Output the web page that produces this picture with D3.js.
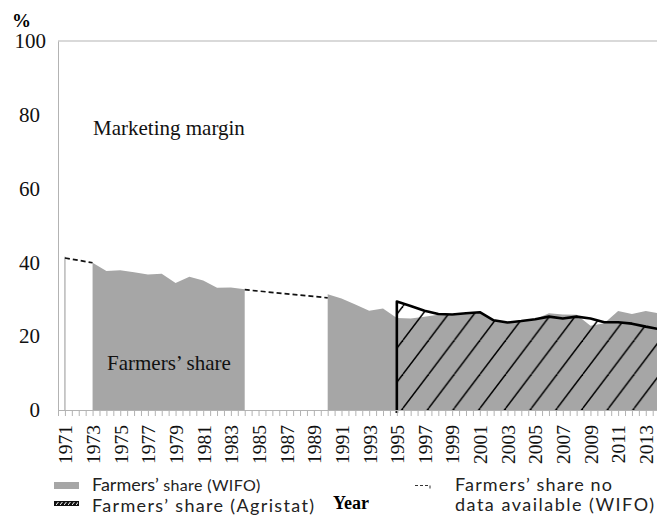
<!DOCTYPE html>
<html>
<head>
<meta charset="utf-8">
<script src="https://cdn.jsdelivr.net/npm/d3@7"></script>
<style>
  body { margin: 0; background: #fff; }
  svg { display: block; }
</style>
</head>
<body>
<div id="graph"></div>
<script>
'use strict';

let W = 657;
let H = 518;
let PLOT = { left: 58, top: 41, bottom: 410 };
let SERIF = '"Liberation Serif", "Times New Roman", serif';
let SANS = 'Lato, "Open Sans", sans-serif';

// WIFO series, two blocks with gaps in between
let wifoYearsA = [1973, 1974, 1975, 1976, 1977, 1978, 1979, 1980, 1981, 1982, 1983, 1984];
let wifoValuesA = [39.9, 37.7, 37.9, 37.3, 36.7, 36.9, 34.4, 36.1, 35.1, 33.1, 33.2, 32.7];

let wifoYearsB = [1990, 1991, 1992, 1993, 1994, 1995, 1996, 1997, 1998, 1999, 2000, 2001,
    2002, 2003, 2004, 2005, 2006, 2007, 2008, 2009, 2010, 2011, 2012, 2013, 2014];
let wifoValuesB = [31.4, 30.2, 28.6, 26.9, 27.5, 24.9, 24.8, 25.3, 25.8, 25.7, 26.2, 26.5,
    24.4, 23.6, 24.1, 24.6, 26.2, 25.9, 25.8, 22.8, 23.5, 26.8, 26.0, 26.8, 26.2];

// single WIFO value for 1971
let wifoYear1971 = 1971;
let wifoValue1971 = 41.5;

// Agristat series
let agriYears = [1995, 1996, 1997, 1998, 1999, 2000, 2001, 2002, 2003, 2004,
    2005, 2006, 2007, 2008, 2009, 2010, 2011, 2012, 2013, 2014];
let agriValues = [29.4, 28.2, 26.9, 26.0, 25.9, 26.2, 26.5, 24.3, 23.7, 24.1,
    24.6, 25.3, 24.8, 25.3, 24.8, 23.8, 23.8, 23.4, 22.6, 21.9];

// dashed "no data" bridges
let gapYears = [[1971, 1973], [1984, 1990]];
let gapValues = [[41.2, 39.9], [32.6, 30.4]];

let yTicks = [0, 20, 40, 60, 80, 100];
let xLabels = [1971, 1973, 1975, 1977, 1979, 1981, 1983, 1985, 1987, 1989, 1991,
    1993, 1995, 1997, 1999, 2001, 2003, 2005, 2007, 2009, 2011, 2013];

function zip (xs, ys) {
    return xs.map((x, i) => ({ year: x, value: ys[i] }));
}

function visualize () {
    let svg = d3.select('#graph')
        .append('svg')
        .attr('width', W)
        .attr('height', H);

    let x = d3.scaleLinear()
        .domain([1970.5, 2014])
        .range([PLOT.left, PLOT.left + 43.5 * 13.83]);

    let y = d3.scaleLinear()
        .domain([0, 100])
        .range([PLOT.bottom, PLOT.top]);

    makePattern(svg);

    let area = d3.area()
        .x(d => x(d.year))
        .y0(y(0))
        .y1(d => y(d.value));

    let line = d3.line()
        .x(d => x(d.year))
        .y(d => y(d.value));

    // frame: top border
    svg.append('line')
        .attr('x1', PLOT.left).attr('x2', W)
        .attr('y1', PLOT.top).attr('y2', PLOT.top)
        .attr('stroke', '#b3b3b3')
        .attr('stroke-width', 1);

    // grey WIFO areas
    [zip(wifoYearsA, wifoValuesA), zip(wifoYearsB, wifoValuesB)].forEach(block => {
        svg.append('path')
            .datum(block)
            .attr('d', area)
            .attr('fill', '#a6a6a6');
    });

    // 1971 single observation
    svg.append('path')
        .datum([{ year: wifoYear1971, value: 0 }, { year: wifoYear1971, value: wifoValue1971 }])
        .attr('d', line)
        .attr('stroke', '#bdbdbd')
        .attr('stroke-width', 1.6)
        .attr('fill', 'none');

    // Agristat hatched area
    let agri = zip(agriYears, agriValues);
    svg.append('path')
        .datum(agri)
        .attr('d', area)
        .attr('fill', 'url(#hatch)');

    svg.append('path')
        .datum([{ year: agriYears[0], value: 0 }].concat(agri))
        .attr('d', line)
        .attr('fill', 'none')
        .attr('stroke', '#000')
        .attr('stroke-width', 2.6)
        .attr('stroke-linejoin', 'round');

    // short overhang of the Agristat edge below the axis
    svg.append('line')
        .attr('x1', x(agriYears[0])).attr('x2', x(agriYears[0]))
        .attr('y1', y(0)).attr('y2', y(0) + 3)
        .attr('stroke', '#000')
        .attr('stroke-width', 2.6);

    // dashed bridges
    gapYears.forEach((ys, i) => {
        svg.append('path')
            .datum(zip(ys, gapValues[i]))
            .attr('d', line)
            .attr('fill', 'none')
            .attr('stroke', '#111')
            .attr('stroke-width', 1.7)
            .attr('stroke-dasharray', '5,3');
    });

    drawAxes(svg, x, y);
    makeLabels(svg);
    makeLegend(svg);
}

function makePattern (svg) {
    let defs = svg.append('defs');
    let pw = 25.7, ph = 34;
    let p = defs.append('pattern')
        .attr('id', 'hatch')
        .attr('patternUnits', 'userSpaceOnUse')
        .attr('x', 17.6)
        .attr('y', 0)
        .attr('width', pw)
        .attr('height', ph);
    [[0, ph, pw, 0], [-pw, ph, 0, 0], [pw, ph, 2 * pw, 0]].forEach(s => {
        p.append('line')
            .attr('x1', s[0]).attr('y1', s[1])
            .attr('x2', s[2]).attr('y2', s[3])
            .attr('stroke', '#000')
            .attr('stroke-width', 1.5);
    });

    let q = defs.append('pattern')
        .attr('id', 'hatch-small')
        .attr('patternUnits', 'userSpaceOnUse')
        .attr('width', 4)
        .attr('height', 5);
    q.append('rect').attr('width', 4).attr('height', 5).attr('fill', '#111');
    q.append('line')
        .attr('x1', 0).attr('y1', 5).attr('x2', 4).attr('y2', 0)
        .attr('stroke', '#fff')
        .attr('stroke-width', 1);
}

function drawAxes (svg, x, y) {
    let yAxis = d3.axisLeft(y)
        .tickValues(yTicks)
        .tickSize(0)
        .tickPadding(18);

    let gy = svg.append('g')
        .attr('transform', 'translate(' + PLOT.left + ', 0)')
        .call(yAxis);
    gy.select('.domain').attr('stroke', '#b3b3b3');
    gy.selectAll('text')
        .style('font-family', SERIF)
        .style('font-size', '21px')
        .attr('fill', '#111');
    gy.selectAll('text').filter(d => d == 100).attr('dx', 6);

    let minor = d3.range(1970.5, 2014.01, 0.5);
    let xTicks = d3.axisBottom(x)
        .tickValues(minor)
        .tickSize(6)
        .tickFormat('');

    let gx = svg.append('g')
        .attr('transform', 'translate(0, ' + PLOT.bottom + ')')
        .call(xTicks);
    gx.select('.domain').attr('stroke', '#b3b3b3');
    gx.selectAll('.tick line').attr('stroke', '#b3b3b3');

    let xAxis = d3.axisBottom(x)
        .tickValues(xLabels)
        .tickSize(0)
        .tickFormat(d => String(d));

    let gl = svg.append('g')
        .attr('transform', 'translate(0, ' + PLOT.bottom + ')')
        .call(xAxis);
    gl.select('.domain').remove();
    gl.selectAll('text')
        .attr('transform', 'rotate(-90)')
        .attr('x', -15)
        .attr('y', 0)
        .attr('dy', '0.35em')
        .style('text-anchor', 'end')
        .style('font-family', SERIF)
        .style('font-size', '19.5px')
        .attr('fill', '#111');
}

function makeLabels (svg) {
    svg.append('text')
        .attr('x', 12)
        .attr('y', 27)
        .style('font-family', SERIF)
        .style('font-size', '19px')
        .style('font-weight', 'bold')
        .text('%');

    svg.append('text')
        .attr('x', 93)
        .attr('y', 135)
        .style('font-family', SERIF)
        .style('font-size', '21px')
        .attr('fill', '#111')
        .text('Marketing margin');

    svg.append('text')
        .attr('x', 107)
        .attr('y', 369.5)
        .style('font-family', SERIF)
        .style('font-size', '21px')
        .attr('fill', '#111')
        .text('Farmers’ share');

    svg.append('text')
        .attr('x', 333)
        .attr('y', 509)
        .style('font-family', SERIF)
        .style('font-size', '18px')
        .style('font-weight', 'bold')
        .text('Year');
}

function makeLegend (svg) {
    let g = svg.append('g');

    g.append('rect')
        .attr('x', 54).attr('y', 482)
        .attr('width', 25).attr('height', 7)
        .attr('fill', '#a6a6a6');

    let t1 = g.append('text')
        .attr('x', 92).attr('y', 491)
        .style('font-family', SANS)
        .attr('fill', '#222');
    t1.append('tspan').style('font-size', '18px').text('Farmers’ ');
    t1.append('tspan')
        .style('font-size', '16px')
        .attr('textLength', 97)
        .attr('lengthAdjust', 'spacing')
        .text('share (WIFO)');

    g.append('rect')
        .attr('x', 54.5).attr('y', 501.5)
        .attr('width', 24).attr('height', 4)
        .attr('fill', 'url(#hatch-small)')
        .attr('stroke', '#111')
        .attr('stroke-width', 1);

    g.append('text')
        .attr('x', 92).attr('y', 512)
        .style('font-family', SANS)
        .style('font-size', '18px')
        .attr('textLength', 222)
        .attr('lengthAdjust', 'spacing')
        .attr('fill', '#222')
        .text('Farmers’ share (Agristat)');

    g.append('path')
        .attr('d', 'M415,485.5H430V489')
        .attr('fill', 'none')
        .attr('stroke', '#333')
        .attr('stroke-width', 1)
        .attr('stroke-dasharray', '3,2');

    g.append('text')
        .attr('x', 455).attr('y', 491)
        .style('font-family', SANS)
        .style('font-size', '18px')
        .attr('textLength', 157)
        .attr('lengthAdjust', 'spacing')
        .attr('fill', '#222')
        .text('Farmers’ share no');

    g.append('text')
        .attr('x', 455).attr('y', 511)
        .style('font-family', SANS)
        .style('font-size', '18px')
        .attr('textLength', 199)
        .attr('lengthAdjust', 'spacing')
        .attr('fill', '#222')
        .text('data available (WIFO)');
}

visualize();
</script>
</body>
</html>
